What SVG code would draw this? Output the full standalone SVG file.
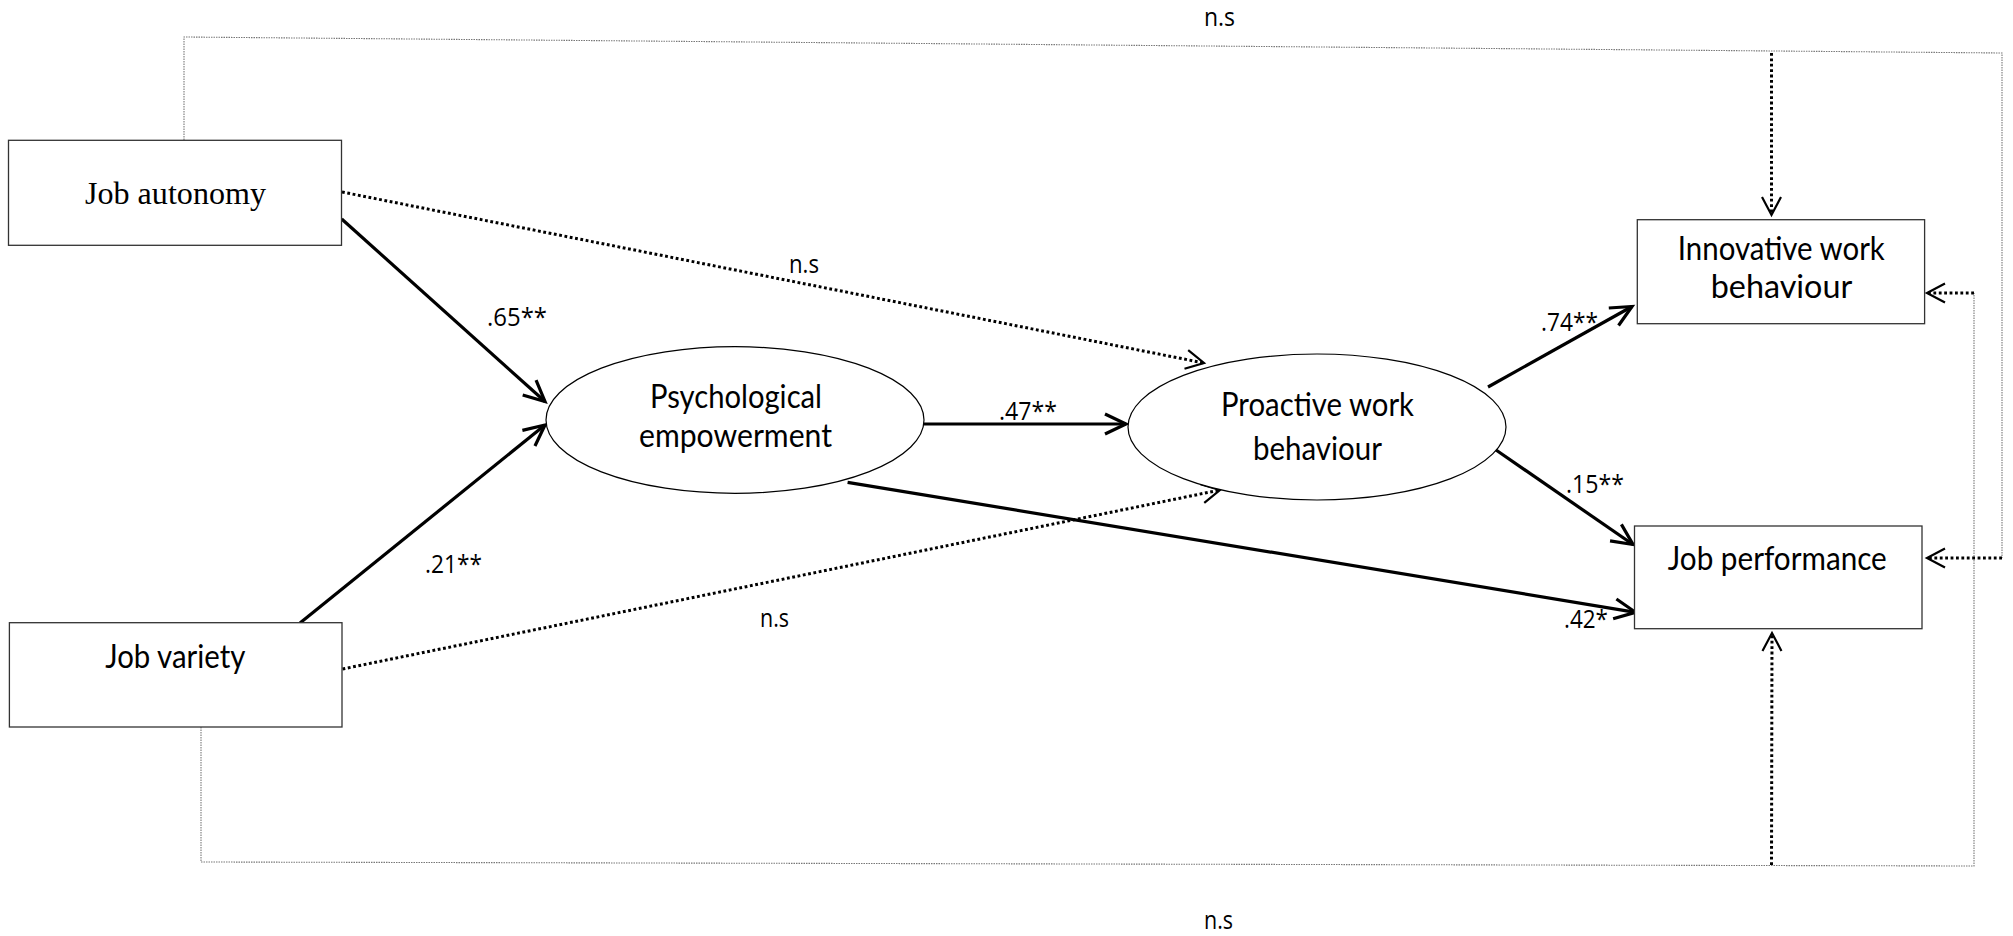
<svg xmlns="http://www.w3.org/2000/svg" width="2013" height="936" viewBox="0 0 2013 936">
<style>
.box{fill:#fff;stroke:#333;stroke-width:1.3}
.ell{fill:#fff;stroke:#000;stroke-width:1.2}
.lbl{font-family:Lato,"Liberation Sans",sans-serif;font-size:32px;fill:#000;text-anchor:middle}
.serif{font-family:"Liberation Serif",serif;font-size:32px;fill:#000;text-anchor:middle}
.num{font-family:"Open Sans","Liberation Sans",sans-serif;font-size:26px;fill:#000}
.solid{fill:none;stroke:#000;stroke-width:3.2}
.dot{fill:none;stroke:#000;stroke-width:3;stroke-dasharray:2.8 2.6}
.thin{fill:none;stroke:#777;stroke-width:1.1;stroke-dasharray:1.5 1}
</style>
<defs>
<marker id="ah" markerUnits="userSpaceOnUse" orient="auto" markerWidth="40" markerHeight="40" refX="0" refY="0" viewBox="-30 -20 40 40" overflow="visible">
<path d="M-21,-10 L0,0 L-21,10" fill="none" stroke="#000" stroke-width="3.2"/>
</marker>
<marker id="ad" markerUnits="userSpaceOnUse" orient="auto" markerWidth="40" markerHeight="40" refX="0" refY="0" viewBox="-30 -20 40 40" overflow="visible">
<path d="M-18,-9.5 L0,0 L-18,9.5" fill="none" stroke="#000" stroke-width="2.2"/>
</marker>
</defs>
<g id="connectors">
<polyline class="thin" points="184,140 184,37 2002,53 2002,558"/>
<polyline class="thin" points="201,727 201,862 1974,866 1974,293"/>
<line class="dot" x1="1771.5" y1="53" x2="1771.5" y2="215" marker-end="url(#ad)"/>
<line class="dot" x1="2002" y1="558" x2="1927" y2="558" marker-end="url(#ad)"/>
<line class="dot" x1="1974" y1="293" x2="1927" y2="293" marker-end="url(#ad)"/>
<line class="dot" x1="1771.5" y1="865" x2="1772" y2="633" marker-end="url(#ad)"/>
<line class="solid" x1="341.7" y1="219" x2="545" y2="401.5" marker-end="url(#ah)"/>
<line class="solid" x1="300" y1="623" x2="545" y2="425" marker-end="url(#ah)"/>
<line class="solid" x1="924" y1="424" x2="1126" y2="424" marker-end="url(#ah)"/>
<line class="dot" x1="342" y1="192" x2="1204" y2="363" marker-end="url(#ad)"/>
<line class="dot" x1="342.5" y1="669" x2="1220" y2="490" marker-end="url(#ad)"/>
<line class="solid" x1="847.6" y1="482.3" x2="1635.5" y2="612.3" marker-end="url(#ah)"/>
<line class="solid" x1="1488" y1="387" x2="1632" y2="306.5" marker-end="url(#ah)"/>
<line class="solid" x1="1496" y1="450" x2="1633" y2="544.5" marker-end="url(#ah)"/>
<text class="num" x="487" y="326" textLength="60" lengthAdjust="spacingAndGlyphs">.65**</text>
<text class="num" x="425" y="573" textLength="57" lengthAdjust="spacingAndGlyphs">.21**</text>
<text class="num" x="999" y="420" textLength="58" lengthAdjust="spacingAndGlyphs">.47**</text>
<text class="num" x="1541" y="331" textLength="57" lengthAdjust="spacingAndGlyphs">.74**</text>
<text class="num" x="1566" y="493" textLength="58" lengthAdjust="spacingAndGlyphs">.15**</text>
<text class="num" x="1564" y="628" textLength="44" lengthAdjust="spacingAndGlyphs">.42*</text>
<text class="num" x="1204" y="26" textLength="31" lengthAdjust="spacingAndGlyphs">n.s</text>
<text class="num" x="1204" y="929" textLength="29" lengthAdjust="spacingAndGlyphs">n.s</text>
<text class="num" x="789" y="273" textLength="30" lengthAdjust="spacingAndGlyphs">n.s</text>
<text class="num" x="760" y="627" textLength="29" lengthAdjust="spacingAndGlyphs">n.s</text>
</g>
<g id="job-autonomy">
<rect class="box" x="8.5" y="140.3" width="333" height="105"/>
<text class="serif" x="175.5" y="204" textLength="181" lengthAdjust="spacingAndGlyphs">Job autonomy</text>
</g>
<g id="job-variety">
<rect class="box" x="9.4" y="622.7" width="332.6" height="104.3"/>
<text class="lbl" x="175.3" y="668" textLength="140" lengthAdjust="spacingAndGlyphs">Job variety</text>
</g>
<g id="psychological-empowerment">
<ellipse class="ell" cx="735" cy="420" rx="189" ry="73.3"/>
<text class="lbl" x="736" y="408" textLength="172" lengthAdjust="spacingAndGlyphs">Psychological</text>
<text class="lbl" x="735.5" y="447" textLength="193" lengthAdjust="spacingAndGlyphs">empowerment</text>
</g>
<g id="proactive-work-behaviour">
<ellipse class="ell" cx="1317" cy="427" rx="189" ry="73"/>
<text class="lbl" x="1317.5" y="416" textLength="193" lengthAdjust="spacingAndGlyphs">Proactive work</text>
<text class="lbl" x="1317.5" y="460" textLength="129" lengthAdjust="spacingAndGlyphs">behaviour</text>
</g>
<g id="innovative-work-behaviour">
<rect class="box" x="1637.3" y="219.7" width="287.3" height="104"/>
<text class="lbl" x="1781.3" y="260" textLength="207" lengthAdjust="spacingAndGlyphs">Innovative work</text>
<text class="lbl" x="1781.5" y="298.3" textLength="141.6" lengthAdjust="spacingAndGlyphs">behaviour</text>
</g>
<g id="job-performance">
<rect class="box" x="1634.5" y="526" width="287.5" height="102.7"/>
<text class="lbl" x="1777.3" y="570" textLength="219" lengthAdjust="spacingAndGlyphs">Job performance</text>
</g>
</svg>
